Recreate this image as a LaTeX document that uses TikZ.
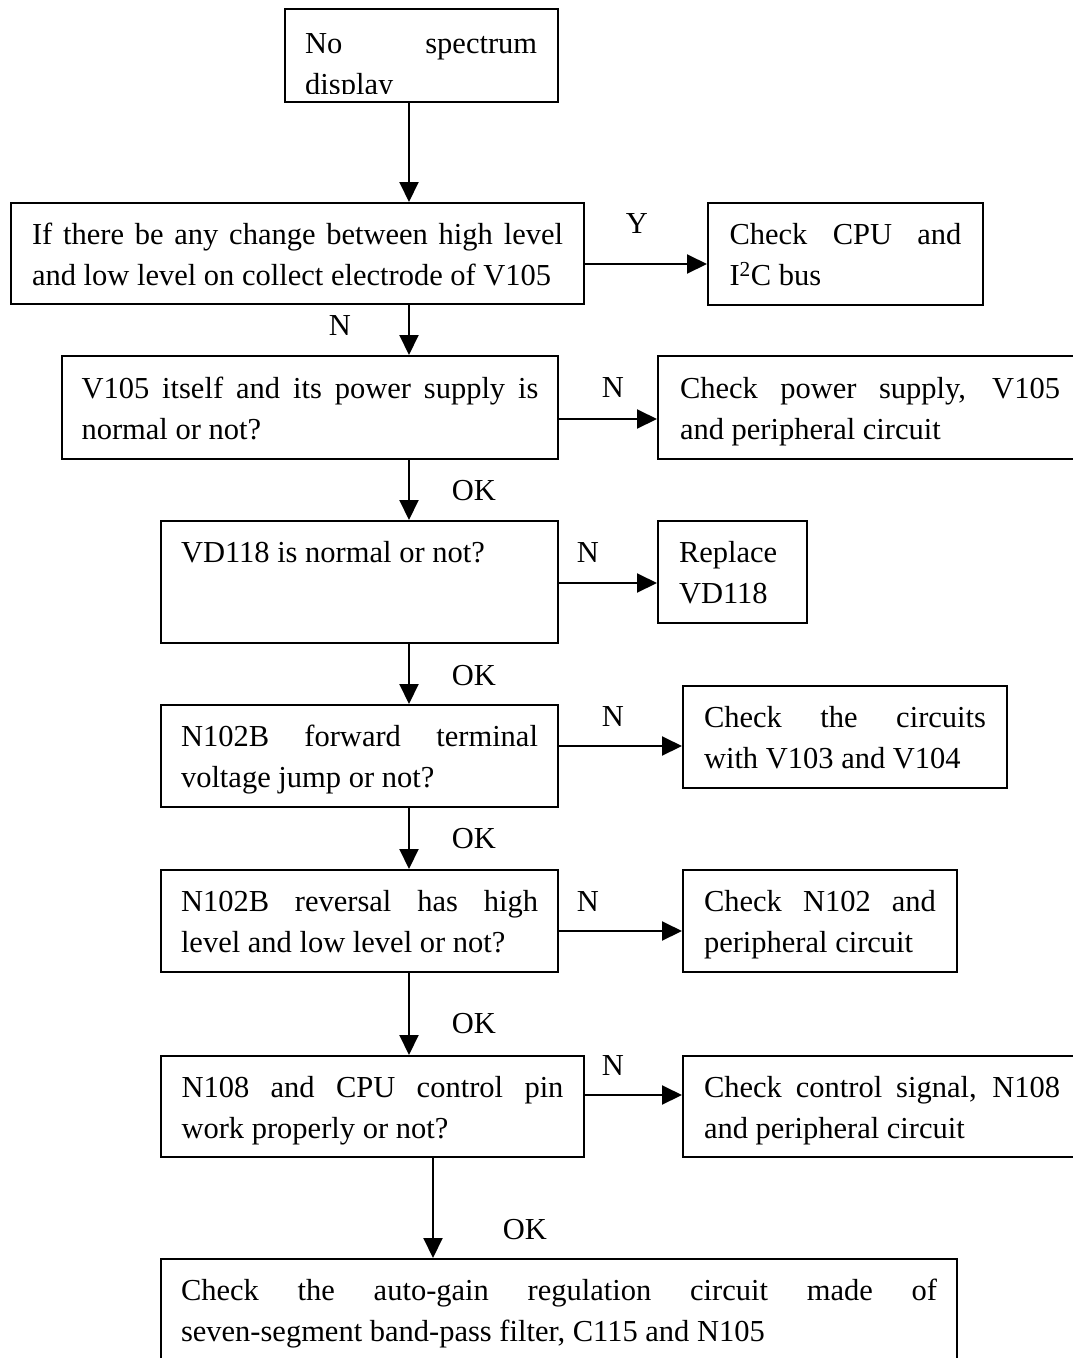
\documentclass[tikz,border=0pt]{standalone}
\usepackage{fontspec}
\setmainfont{Liberation Serif}
\usetikzlibrary{arrows.meta}
\tolerance=10000
\hbadness=10000
\hyphenpenalty=10000
\exhyphenpenalty=10000

\tikzset{
    every node/.style={font=\fontsize{30.5}{41}\selectfont},
    box/.style={draw, line width=2pt, rectangle, anchor=north west, align=justify, inner sep=0pt,
        execute at begin node=\rule{0pt}{30pt},
        execute at end node=\rule[-7.5pt]{0pt}{7.5pt}},
    lbl/.style={inner sep=0pt},
    >={Triangle[length=20pt,width=19pt]},
}

\begin{document}
\begin{tikzpicture}[x=1pt,y=-1pt]
    \useasboundingbox (0,0) rectangle (1072,1358);
    \coordinate (spine)     at (409,0);
    \coordinate (spinelast) at (433,0);

    \node[draw, line width=2pt, anchor=north west, inner sep=0pt, minimum width=273pt, minimum height=93pt] (start) at (284,8) {};
    \begin{scope}
        \clip (start.north west) rectangle ([yshift=10pt]start.south east);
        \node[lbl, text width=232pt, align=justify, anchor=base west] (starttext) at (305,53) {No spectrum\linebreak display};
    \end{scope}
    \node[box, minimum width=573pt, minimum height=101pt, text width=531pt] (change)   at (10,202)   {If there be any change between high level\linebreak and low level on collect electrode of V105};
    \node[box, minimum width=275pt, minimum height=102pt, text width=232pt] (cpu)      at (707,202)  {Check CPU and\linebreak I\textsuperscript{2}C bus};
    \node[box, minimum width=496pt, minimum height=103pt, text width=457pt] (supply)   at (61,355)   {V105 itself and its power supply is\linebreak normal or not?};
    \node[box, minimum width=424pt, minimum height=103pt, text width=380pt] (power)    at (657,355)  {Check power supply, V105\linebreak and peripheral circuit};
    \node[box, minimum width=397pt, minimum height=122pt, text width=357pt] (diode)    at (160,520)  {VD118 is normal or not?\par\vspace{20.5pt}\mbox{}};
    \node[box, minimum width=149pt, minimum height=102pt, text width=107pt] (replace)  at (657,520)  {Replace\linebreak VD118};
    \node[box, minimum width=397pt, minimum height=102pt, text width=357pt] (forward)  at (160,704)  {N102B forward terminal\linebreak voltage jump or not?};
    \node[box, minimum width=324pt, minimum height=102pt, text width=282pt] (circuits) at (682,685)  {Check the circuits\linebreak with V103 and V104};
    \node[box, minimum width=397pt, minimum height=102pt, text width=357pt] (reversal) at (160,869)  {N102B reversal has high\linebreak level and low level or not?};
    \node[box, minimum width=274pt, minimum height=102pt, text width=232pt] (npart)    at (682,869)  {Check N102 and\linebreak peripheral circuit};
    \node[box, minimum width=423pt, minimum height=101pt, text width=382pt] (pin)      at (160,1055) {N108 and CPU control pin\linebreak work properly or not?};
    \node[box, minimum width=398pt, minimum height=101pt, text width=356pt] (signal)   at (682,1055) {Check control signal, N108\linebreak and peripheral circuit};
    \node[box, minimum width=796pt, minimum height=102pt, text width=756pt] (agc)      at (160,1258) {Check the auto-gain regulation circuit made of\linebreak seven-segment band-pass filter, C115 and N105};

    % labels
    \node[lbl] (yes)  at (637,224)  {Y};
    \node[lbl] (no1)  at (340,326)  {N};
    \node[lbl] (no2)  at (613,388)  {N};
    \node[lbl] (ok1)  at (474,491)  {OK};
    \node[lbl] (no3)  at (588,553)  {N};
    \node[lbl] (ok2)  at (474,676)  {OK};
    \node[lbl] (no4)  at (613,717)  {N};
    \node[lbl] (ok3)  at (474,839)  {OK};
    \node[lbl] (no5)  at (588,902)  {N};
    \node[lbl] (ok4)  at (474,1024) {OK};
    \node[lbl] (no6)  at (613,1066) {N};
    \node[lbl] (ok5)  at (525,1230) {OK};

    \path[->, line width=2pt]
        (start.south -| spine)     edge (change.north -| spine)
        (change.south -| spine)    edge (supply.north -| spine)
        (supply.south -| spine)    edge (diode.north -| spine)
        (diode.south -| spine)     edge (forward.north -| spine)
        (forward.south -| spine)   edge (reversal.north -| spine)
        (reversal.south -| spine)  edge (pin.north -| spine)
        (pin.south -| spinelast)   edge (agc.north -| spinelast)
        (change.east |- 0,264)     edge (cpu.west |- 0,264)
        (supply.east |- 0,419)     edge (power.west |- 0,419)
        (diode.east |- 0,583)      edge (replace.west |- 0,583)
        (forward.east |- 0,746)    edge (circuits.west |- 0,746)
        (reversal.east |- 0,931)   edge (npart.west |- 0,931)
        (pin.east |- 0,1095)       edge (signal.west |- 0,1095)
        ;
\end{tikzpicture}
\end{document}
